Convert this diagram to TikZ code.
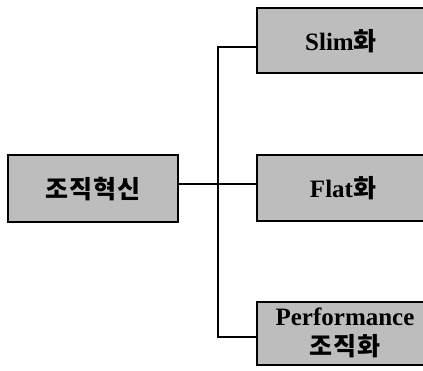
\documentclass[tikz,border=0pt]{standalone}
\usepackage{fontspec}
\setmainfont{Liberation Serif}
\newfontfamily\kr[LetterSpace=5]{Noto Sans CJK KR}
\newcommand\krtext[1]{{\kr\fontsize{25}{30}\selectfont #1}}
\begin{document}
\begin{tikzpicture}[x=1pt,y=-1pt,
  orgbox/.style={draw=black, line width=2pt, fill=black!26, inner sep=0pt},
  link/.style={line width=1.5pt},
  lbl/.style={font=\fontsize{25}{38}\selectfont\bfseries, align=center}]
  \useasboundingbox (0,0) rectangle (423,370);
  \clip (0,0) rectangle (423,370);

  % boxes
  \draw[orgbox] (8,155) rectangle (178,222);
  \draw[orgbox] (257,8) rectangle (424,73);
  \draw[orgbox] (257,155) rectangle (424,221);
  \draw[orgbox] (257,302) rectangle (424,365);

  % labels
  \node[lbl] (root) at (93,189) {\krtext{조직혁신}};
  \node[lbl] (slim) at (341,41) {Slim\krtext{화}};
  \node[lbl] (flat) at (343,188) {Flat\krtext{화}};
  \node[lbl] (perf) at (345,333) {Performance\\[-8pt]\krtext{조직화}};

  % connectors
  \coordinate (rootR) at (178,184);
  \coordinate (busT) at (218,47);
  \coordinate (busM) at (218,184);
  \coordinate (busB) at (218,337);
  \coordinate (slimL) at (257,47);
  \coordinate (flatL) at (257,184);
  \coordinate (perfL) at (257,337);
  \draw[link] (rootR) -- (flatL);
  \draw[link] (slimL) -- (busT) -- (busB) -- (perfL);
\end{tikzpicture}
\end{document}
